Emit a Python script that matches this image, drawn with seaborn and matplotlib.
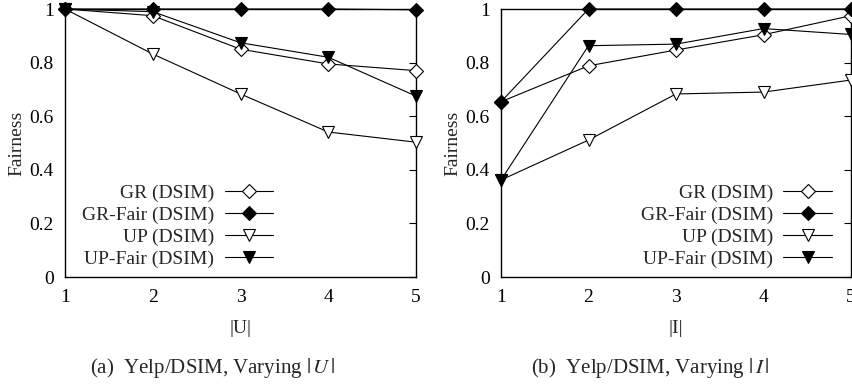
import matplotlib
matplotlib.use("Agg")
import matplotlib.pyplot as plt
import seaborn as sns
import pandas as pd

sns.set_theme(style="white")
plt.rcParams['font.family'] = ['Liberation Serif', 'DejaVu Serif']
plt.rcParams['mathtext.fontset'] = 'stix'

x_vals = [1, 2, 3, 4, 5]
series_names = ["GR (DSIM)", "GR-Fair (DSIM)", "UP (DSIM)", "UP-Fair (DSIM)"]

# Panel (a): varying |U|
a_gr = [1.0, 0.975, 0.85, 0.795, 0.77]
a_gr_fair = [1.0, 1.0, 1.0, 1.0, 0.997]
a_up = [1.0, 0.832, 0.683, 0.541, 0.503]
a_up_fair = [1.0, 0.99, 0.874, 0.82, 0.675]

# Panel (b): varying |I|
b_gr = [0.654, 0.788, 0.847, 0.904, 0.975]
b_gr_fair = [0.654, 1.0, 1.0, 1.0, 1.0]
b_up = [0.362, 0.511, 0.683, 0.69, 0.735]
b_up_fair = [0.362, 0.863, 0.869, 0.927, 0.905]

y_ticks = [0, 0.2, 0.4, 0.6, 0.8, 1.0]
y_tick_labels = ["0", "0.2", "0.4", "0.6", "0.8", "1"]

styles = [("D", "white", 7.5), ("D", "black", 7.5), ("v", "white", 9), ("v", "black", 9)]

FS = 14

fig = plt.figure(figsize=(8.52, 3.84), dpi=100)
W, H = 852, 384

def make_ax(x0, x1, y_top, y_bot):
    return fig.add_axes([x0 / W, 1 - y_bot / H, (x1 - x0) / W, (y_bot - y_top) / H])

ax_a = make_ax(65, 416, 9, 277)
ax_b = make_ax(501, 851, 9, 277)

def draw(ax, data, xlabel, leg_right):
    for name, vals, (mk, fc, ms) in zip(series_names, data, styles):
        df = pd.DataFrame({"x": x_vals, "y": vals})
        sns.lineplot(data=df, x="x", y="y", ax=ax, color="black", linewidth=0.8,
                     marker=mk, markersize=ms, markerfacecolor=fc,
                     markeredgecolor="black", markeredgewidth=0.8, label=name,
                     clip_on=False, zorder=3)
    ax.set_xlim(1, 5)
    ax.set_ylim(0, 1)
    ax.set_xticks(x_vals)
    ax.set_xticklabels([str(v) for v in x_vals])
    ax.set_yticks(y_ticks)
    ax.set_yticklabels(y_tick_labels)
    ax.tick_params(direction="in", length=5, width=0.8, top=True, right=True,
                   labelsize=FS, colors="black")
    ax.tick_params(axis="x", pad=9)
    ax.tick_params(axis="y", pad=8)
    for s in ax.spines.values():
        s.set_color("black")
        s.set_linewidth(1.0)
    ax.set_xlabel(xlabel, fontsize=FS, labelpad=10)
    ax.set_ylabel("Fairness", fontsize=FS, labelpad=3)
    leg = ax.legend(loc="lower right", bbox_to_anchor=(leg_right, 0.033),
                    frameon=False, markerfirst=False, fontsize=FS,
                    handlelength=2.5, handletextpad=0.55, labelspacing=0.22,
                    borderpad=0, borderaxespad=0)
    for t in leg.get_texts():
        t.set_ha("right")

draw(ax_a, [a_gr, a_gr_fair, a_up, a_up_fair], "|U|", 0.593)
draw(ax_b, [b_gr, b_gr_fair, b_up, b_up_fair], "|I|", 0.946)

fig.text(213 / W, 1 - 368 / H, r"(a)  Yelp/DSIM, Varying $|\,U\,|$", ha="center", va="center", fontsize=15)
fig.text(650 / W, 1 - 368 / H, r"(b)  Yelp/DSIM, Varying $|\,I\,|$", ha="center", va="center", fontsize=15)

fig.savefig("out.png", dpi=100)
